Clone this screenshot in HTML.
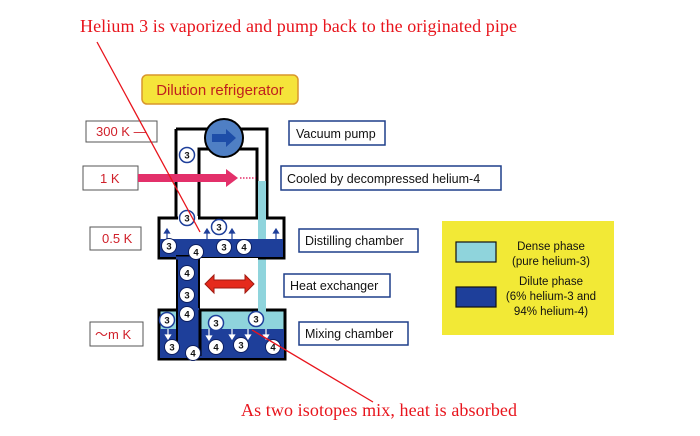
<!DOCTYPE html>
<html><head><meta charset="utf-8"><style>
html,body{margin:0;padding:0;background:#fff}
svg{display:block}
.s{font-family:"Liberation Sans",sans-serif;font-size:12.5px;fill:#111}
.r{font-family:"Liberation Serif",serif;font-size:18px;fill:#e8141c}
.k{font-family:"Liberation Sans","Noto Sans CJK JP",sans-serif;font-size:13px;fill:#d0202a}
.n{font-family:"Liberation Sans",sans-serif;font-size:9.5px;font-weight:bold;fill:#111;text-anchor:middle}
</style></head><body>
<svg width="700" height="436" viewBox="0 0 700 436" xmlns="http://www.w3.org/2000/svg">
<text class="r" x="80" y="32" textLength="437">Helium 3 is vaporized and pump back to the originated pipe</text>
<text class="r" x="241" y="416" textLength="276">As two isotopes mix, heat is absorbed</text>

<rect x="142" y="75" width="156" height="29" rx="5" fill="#f5e43a" stroke="#d9962c" stroke-width="1.5"/>
<text x="220" y="95" text-anchor="middle" style="font-family:'Liberation Sans',sans-serif;font-size:15px;fill:#c0201e">Dilution refrigerator</text>

<rect x="86" y="121" width="71" height="21" fill="#fff" stroke="#555"/><text class="k" x="96" y="136">300 K —</text>
<rect x="83" y="166" width="55" height="24" fill="#fff" stroke="#555"/><text class="k" x="100" y="183">1 K</text>
<rect x="90" y="227" width="51" height="23" fill="#fff" stroke="#555"/><text class="k" x="102" y="243">0.5 K</text>
<rect x="90" y="322" width="53" height="24" fill="#fff" stroke="#555"/><text class="k" x="95" y="339">〜m K</text>

<path d="M176,129 H267 V218" fill="none" stroke="#000" stroke-width="3"/>
<path d="M176,129 V218" fill="none" stroke="#000" stroke-width="3"/>
<path d="M199,218 V149 H257 V218" fill="none" stroke="#000" stroke-width="3"/>
<rect x="258" y="181" width="8" height="130" fill="#8fd4dc"/>
<rect x="159" y="218" width="125" height="40" fill="#fff" stroke="#000" stroke-width="3"/>
<rect x="160" y="239" width="123" height="18" fill="#1e3f9a"/>
<rect x="258" y="219" width="8" height="20" fill="#8fd4dc"/>
<rect x="178" y="216" width="20" height="4" fill="#fff"/>
<rect x="258" y="216" width="8" height="4" fill="#8fd4dc"/>
<rect x="177" y="256" width="22" height="56" fill="#1e3f9a" stroke="#000" stroke-width="2"/>
<rect x="200" y="258" width="58" height="52" fill="#fff"/>
<rect x="159" y="310" width="126" height="49" fill="#8fd4dc" stroke="#000" stroke-width="3"/>
<rect x="160" y="329" width="124" height="29" fill="#1e3f9a"/>
<rect x="178" y="308" width="21" height="50" fill="#1e3f9a"/>
<line x1="200" y1="310" x2="200" y2="356" stroke="#000" stroke-width="3"/>
<line x1="177" y1="310" x2="177" y2="348" stroke="#000" stroke-width="2"/>
<rect x="200" y="309" width="58" height="2" fill="#000"/>
<rect x="258" y="308" width="8" height="4" fill="#8fd4dc"/>
<line x1="176" y1="258" x2="199" y2="258" stroke="#1e3f9a" stroke-width="3"/>

<circle cx="224" cy="138" r="19" fill="#4f7fc4" stroke="#000" stroke-width="2"/>
<path d="M212,134 H226 V129 L236,138 L226,147 V142 H212Z" fill="#1d4da8"/>

<path d="M138,174 H226 V169 L238,178 L226,187 V182 H138Z" fill="#e3306a"/>
<line x1="240" y1="178" x2="256" y2="178" stroke="#e3306a" stroke-width="1.5" stroke-dasharray="1.5,1.5"/>

<path d="M205,284 L214,275 V280 H245 V275 L254,284 L245,293 V288 H214 V293Z" fill="#e52a1c" stroke="#a01a10" stroke-width="1"/>

<g stroke="#1e3f9a" stroke-width="1.2" fill="#1e3f9a">
<line x1="167" y1="239" x2="167" y2="232"/><path d="M164.5,233 L167,229 L169.5,233Z"/>
<line x1="207" y1="239" x2="207" y2="232"/><path d="M204.5,233 L207,229 L209.5,233Z"/>
<line x1="232" y1="239" x2="232" y2="232"/><path d="M229.5,233 L232,229 L234.5,233Z"/>
<line x1="276" y1="239" x2="276" y2="232"/><path d="M273.5,233 L276,229 L278.5,233Z"/>
</g>
<g stroke="#fff" stroke-width="1.2" fill="#fff">
<line x1="168" y1="329" x2="168" y2="336"/><path d="M165.5,335 L168,339 L170.5,335Z"/>
<line x1="209" y1="329" x2="209" y2="337"/><path d="M206.5,336 L209,340 L211.5,336Z"/>
<line x1="232" y1="329" x2="232" y2="336"/><path d="M229.5,335 L232,339 L234.5,335Z"/>
<line x1="248" y1="329" x2="248" y2="336"/><path d="M245.5,335 L248,339 L250.5,335Z"/>
<line x1="266" y1="329" x2="266" y2="336"/><path d="M263.5,335 L266,339 L268.5,335Z"/>
</g>

<g>
<g stroke="#1e3f9a" stroke-width="1.5" fill="#fff">
<circle cx="187" cy="155" r="7.5"/><circle cx="187" cy="218" r="7.5"/><circle cx="219" cy="227" r="7.5"/>
<circle cx="167" cy="320" r="7.5"/><circle cx="216" cy="323" r="7.5"/><circle cx="256" cy="319" r="7.5"/>
</g>
<g stroke="#0c1e60" stroke-width="1" fill="#fff">
<circle cx="169" cy="246" r="7.5"/><circle cx="196" cy="252" r="7.5"/><circle cx="224" cy="247" r="7.5"/><circle cx="244" cy="247" r="7.5"/>
<circle cx="187" cy="273" r="7.5"/><circle cx="187" cy="295" r="7.5"/><circle cx="187" cy="314" r="7.5"/>
<circle cx="172" cy="347" r="7.5"/><circle cx="193" cy="353" r="7.5"/><circle cx="216" cy="347" r="7.5"/><circle cx="241" cy="345" r="7.5"/><circle cx="273" cy="347" r="7.5"/>
</g>
<text class="n" x="187" y="158.5">3</text><text class="n" x="187" y="221.5">3</text><text class="n" x="219" y="230.5">3</text>
<text class="n" x="167" y="323.5">3</text><text class="n" x="216" y="326.5">3</text><text class="n" x="256" y="322.5">3</text>
<text class="n" x="169" y="249.5">3</text><text class="n" x="196" y="255.5">4</text><text class="n" x="224" y="250.5">3</text><text class="n" x="244" y="250.5">4</text>
<text class="n" x="187" y="276.5">4</text><text class="n" x="187" y="298.5">3</text><text class="n" x="187" y="317.5">4</text>
<text class="n" x="172" y="350.5">3</text><text class="n" x="193" y="356.5">4</text><text class="n" x="216" y="350.5">4</text><text class="n" x="241" y="348.5">3</text><text class="n" x="273" y="350.5">4</text>
</g>

<rect x="289" y="121" width="96" height="24" fill="#fff" stroke="#1e3f8a" stroke-width="1.5"/><text class="s" x="296" y="138">Vacuum pump</text>
<rect x="281" y="166" width="220" height="24" fill="#fff" stroke="#1e3f8a" stroke-width="1.5"/><text class="s" x="287" y="183">Cooled by decompressed helium-4</text>
<rect x="299" y="229" width="119" height="23" fill="#fff" stroke="#1e3f8a" stroke-width="1.5"/><text class="s" x="305" y="245">Distilling chamber</text>
<rect x="284" y="274" width="106" height="23" fill="#fff" stroke="#1e3f8a" stroke-width="1.5"/><text class="s" x="290" y="290">Heat exchanger</text>
<rect x="299" y="322" width="109" height="23" fill="#fff" stroke="#1e3f8a" stroke-width="1.5"/><text class="s" x="305" y="338">Mixing chamber</text>

<rect x="442" y="221" width="172" height="114" fill="#f2e936"/>
<rect x="456" y="242" width="40" height="20" fill="#8fd4dc" stroke="#111" stroke-width="1.2"/>
<rect x="456" y="287" width="40" height="20" fill="#1e3f9a" stroke="#111" stroke-width="1.2"/>
<g style="font-family:'Liberation Sans',sans-serif;font-size:11.5px;fill:#111" text-anchor="middle">
<text x="551" y="250">Dense phase</text><text x="551" y="265">(pure helium-3)</text>
<text x="551" y="285">Dilute phase</text><text x="551" y="300">(6% helium-3 and</text><text x="551" y="315">94% helium-4)</text>
</g>

<line x1="97" y1="42" x2="200" y2="232" stroke="#e8141c" stroke-width="1.3"/>
<line x1="252" y1="330" x2="373" y2="402" stroke="#e8141c" stroke-width="1.3"/>
</svg>
</body></html>
